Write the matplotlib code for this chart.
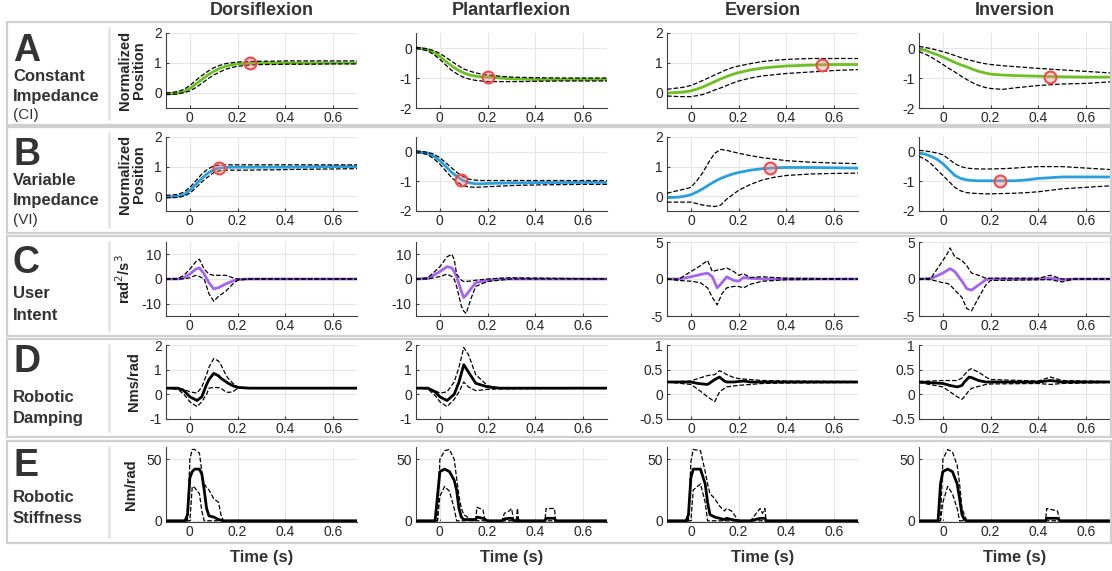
import numpy as np
import matplotlib
matplotlib.use('Agg')
from matplotlib import pyplot as plt
from matplotlib.patches import Rectangle
from matplotlib.lines import Line2D

plt.rcParams['font.family'] = ['Liberation Sans', 'DejaVu Sans']

W, H = 1112, 571

columns = ['Dorsiflexion', 'Plantarflexion', 'Eversion', 'Inversion']

# ---------------- Row A : constant impedance (normalized position) ----------------
tA = [-0.1, -0.075, -0.05, -0.025, 0, 0.025, 0.05, 0.075, 0.1, 0.125, 0.15, 0.175, 0.2, 0.25, 0.3, 0.35, 0.4, 0.5, 0.6, 0.7]
A_dorsi_mean = [-0.02, -0.02, 0.0, 0.05, 0.15, 0.3, 0.45, 0.6, 0.72, 0.82, 0.89, 0.94, 0.97, 0.99, 1.0, 1.0, 1.0, 1.0, 1.0, 1.0]
A_dorsi_hi = [0.0, 0.02, 0.05, 0.12, 0.25, 0.42, 0.58, 0.72, 0.84, 0.92, 0.98, 1.01, 1.03, 1.05, 1.06, 1.06, 1.07, 1.07, 1.07, 1.07]
A_dorsi_lo = [-0.05, -0.05, -0.03, 0.01, 0.07, 0.18, 0.32, 0.47, 0.6, 0.7, 0.79, 0.85, 0.89, 0.93, 0.95, 0.95, 0.96, 0.96, 0.97, 0.97]
A_plant_mean = [0.0, -0.02, -0.06, -0.15, -0.28, -0.45, -0.6, -0.73, -0.83, -0.9, -0.94, -0.96, -0.97, -1.0, -1.03, -1.04, -1.05, -1.05, -1.05, -1.05]
A_plant_hi = [0.02, 0.0, -0.03, -0.09, -0.18, -0.31, -0.45, -0.58, -0.7, -0.77, -0.83, -0.87, -0.9, -0.94, -0.97, -0.98, -0.99, -1.0, -1.0, -1.0]
A_plant_lo = [-0.02, -0.05, -0.1, -0.22, -0.38, -0.57, -0.75, -0.88, -0.98, -1.04, -1.08, -1.1, -1.12, -1.12, -1.12, -1.12, -1.11, -1.1, -1.1, -1.1]
A_ever_mean = [0.0, 0.01, 0.02, 0.04, 0.07, 0.13, 0.2, 0.29, 0.38, 0.47, 0.55, 0.62, 0.68, 0.77, 0.83, 0.87, 0.9, 0.93, 0.95, 0.95]
A_ever_hi = [0.12, 0.15, 0.17, 0.2, 0.25, 0.33, 0.42, 0.51, 0.6, 0.69, 0.78, 0.85, 0.9, 0.98, 1.05, 1.09, 1.12, 1.15, 1.15, 1.15]
A_ever_lo = [-0.1, -0.11, -0.12, -0.12, -0.12, -0.09, -0.05, 0.02, 0.1, 0.17, 0.25, 0.33, 0.4, 0.5, 0.57, 0.61, 0.65, 0.7, 0.75, 0.78]
A_inv_mean = [-0.05, -0.07, -0.15, -0.22, -0.3, -0.39, -0.48, -0.56, -0.63, -0.71, -0.78, -0.83, -0.87, -0.9, -0.92, -0.93, -0.94, -0.96, -0.97, -0.97]
A_inv_hi = [0.05, 0.02, -0.02, -0.07, -0.12, -0.18, -0.25, -0.32, -0.38, -0.43, -0.48, -0.52, -0.55, -0.59, -0.62, -0.65, -0.68, -0.73, -0.78, -0.83]
A_inv_lo = [-0.12, -0.2, -0.3, -0.42, -0.55, -0.68, -0.8, -0.93, -1.05, -1.16, -1.25, -1.31, -1.35, -1.38, -1.33, -1.29, -1.25, -1.2, -1.18, -1.13]

# ---------------- Row B : variable impedance (normalized position) ----------------
tB = tA
B_dorsi_mean = [-0.02, -0.02, 0.0, 0.05, 0.2, 0.4, 0.6, 0.78, 0.9, 0.95, 0.97, 0.98, 0.98, 0.98, 0.98, 0.98, 0.98, 0.99, 1.0, 1.0]
B_dorsi_hi = [0.03, 0.04, 0.06, 0.14, 0.3, 0.52, 0.75, 0.92, 1.02, 1.05, 1.06, 1.06, 1.06, 1.06, 1.06, 1.06, 1.06, 1.06, 1.06, 1.06]
B_dorsi_lo = [-0.05, -0.05, -0.04, 0.0, 0.1, 0.28, 0.48, 0.65, 0.8, 0.86, 0.88, 0.88, 0.88, 0.88, 0.89, 0.89, 0.9, 0.91, 0.92, 0.93]
B_plant_mean = [0.0, -0.02, -0.05, -0.15, -0.3, -0.5, -0.7, -0.85, -0.98, -1.05, -1.08, -1.08, -1.07, -1.06, -1.05, -1.05, -1.04, -1.04, -1.03, -1.03]
B_plant_hi = [0.03, 0.01, -0.02, -0.08, -0.2, -0.37, -0.55, -0.72, -0.85, -0.93, -0.96, -0.97, -0.97, -0.97, -0.97, -0.97, -0.97, -0.97, -0.97, -0.97]
B_plant_lo = [-0.03, -0.05, -0.1, -0.24, -0.42, -0.65, -0.88, -1.04, -1.15, -1.19, -1.2, -1.19, -1.18, -1.16, -1.14, -1.13, -1.12, -1.11, -1.1, -1.1]
B_ever_mean = [-0.05, -0.04, -0.03, 0.0, 0.05, 0.14, 0.25, 0.38, 0.5, 0.6, 0.68, 0.75, 0.8, 0.88, 0.93, 0.96, 0.97, 0.97, 0.96, 0.95]
B_ever_hi = [0.1, 0.15, 0.2, 0.24, 0.3, 0.52, 0.8, 1.15, 1.45, 1.58, 1.55, 1.5, 1.45, 1.37, 1.3, 1.25, 1.2, 1.15, 1.12, 1.1]
B_ever_lo = [-0.2, -0.2, -0.2, -0.2, -0.2, -0.25, -0.3, -0.33, -0.35, -0.3, -0.1, 0.05, 0.2, 0.4, 0.55, 0.64, 0.7, 0.75, 0.77, 0.78]
B_inv_mean = [-0.05, -0.08, -0.15, -0.25, -0.4, -0.6, -0.8, -0.9, -0.95, -0.97, -0.98, -0.98, -0.98, -0.98, -0.98, -0.95, -0.9, -0.85, -0.85, -0.85]
B_inv_hi = [0.05, 0.03, 0.0, -0.04, -0.1, -0.25, -0.4, -0.5, -0.55, -0.57, -0.58, -0.58, -0.58, -0.57, -0.55, -0.52, -0.5, -0.5, -0.55, -0.6]
B_inv_lo = [-0.15, -0.25, -0.4, -0.6, -0.8, -1.0, -1.2, -1.32, -1.38, -1.4, -1.41, -1.42, -1.42, -1.41, -1.4, -1.38, -1.35, -1.25, -1.2, -1.15]

# ---------------- Row C : user intent (rad^2/s^3) ----------------
C_dorsi_t = [-0.1, -0.05, -0.025, 0, 0.025, 0.04, 0.06, 0.08, 0.1, 0.12, 0.15, 0.18, 0.2, 0.25, 0.7]
C_dorsi_mean = [0, 0, 0.5, 2, 4, 4.5, 2, -1.5, -4, -3.5, -2, -0.8, -0.2, 0, 0]
C_dorsi_hi = [0, 0.2, 1.5, 4, 7, 8, 4, 2, 1.5, 1.5, 1.5, 0.5, 0, 0, 0]
C_dorsi_lo = [0, -0.1, 0.1, 0.5, 1.5, 1.0, 0, -6, -9, -7, -5, -2, -0.5, 0, 0]
C_plant_t = [-0.1, -0.05, 0, 0.03, 0.05, 0.06, 0.07, 0.09, 0.1, 0.11, 0.13, 0.15, 0.2, 0.25, 0.3, 0.7]
C_plant_mean = [0, 0.2, 3, 5, 4.5, 3, 1, -5, -7.5, -6.5, -4, -1.5, -0.5, 0, 0, 0]
C_plant_hi = [0, 0.5, 5, 9, 10, 8, 2, -0.5, -1, -1, -0.8, -0.5, 0, 0.3, 0.5, 0]
C_plant_lo = [0, 0, 1, 2, 1, 0, -3, -11, -13, -14, -8, -3, -1, -0.5, 0, 0]
C_ever_t = [-0.1, -0.05, 0, 0.04, 0.07, 0.09, 0.11, 0.13, 0.15, 0.18, 0.2, 0.22, 0.25, 0.3, 0.4, 0.7]
C_ever_mean = [0, 0, 0.3, 0.6, 0.8, 0.3, -1.2, -0.5, 0.3, -0.2, -0.3, 0.2, 0.1, 0, 0, 0]
C_ever_hi = [0, 0, 1, 1.8, 2.5, 1.0, 1.2, 1.3, 1.5, 1.0, 0.5, 0.7, 0.2, 0.3, 0.1, 0]
C_ever_lo = [0, -0.2, -0.3, -0.5, -1.2, -2.5, -3.5, -2, -1.2, -1.0, -1.0, -1.2, -0.7, -0.3, -0.1, 0]
C_inv_t = [-0.1, -0.05, 0, 0.02, 0.03, 0.05, 0.08, 0.1, 0.12, 0.15, 0.18, 0.2, 0.4, 0.45, 0.5, 0.55, 0.7]
C_inv_mean = [0, 0.05, 0.8, 1.2, 1.4, 1.0, -0.3, -1.3, -1.5, -0.8, -0.1, 0, 0, 0.1, -0.1, 0, 0]
C_inv_hi = [0, 0.1, 2.5, 3.5, 4.2, 3, 2.5, 1.8, 0.8, 0.5, 0.1, 0.1, 0.1, 0.5, 0.0, 0, 0]
C_inv_lo = [0, -0.1, -0.5, -0.6, -0.8, -1.5, -2.5, -4.0, -4.3, -2.5, -0.8, -0.2, -0.1, -0.1, -0.4, 0, 0]

# ---------------- Row D : robotic damping (Nms/rad) ----------------
D_dorsi_t = [-0.1, -0.05, -0.025, 0, 0.03, 0.05, 0.07, 0.08, 0.1, 0.12, 0.13, 0.15, 0.16, 0.18, 0.2, 0.25, 0.7]
D_dorsi_mean = [0.25, 0.25, 0.15, -0.1, -0.25, -0.1, 0.4, 0.6, 0.85, 0.75, 0.65, 0.52, 0.45, 0.35, 0.28, 0.25, 0.25]
D_dorsi_hi = [0.25, 0.25, 0.2, 0.1, 0.05, 0.3, 0.8, 1.1, 1.45, 1.35, 1.2, 0.8, 0.65, 0.45, 0.3, 0.25, 0.25]
D_dorsi_lo = [0.25, 0.2, 0.0, -0.3, -0.5, -0.3, 0.0, 0.25, 0.28, 0.27, 0.25, 0.1, 0.08, 0.1, 0.25, 0.25, 0.25]
D_plant_t = [-0.1, -0.05, -0.02, 0, 0.03, 0.06, 0.08, 0.09, 0.1, 0.12, 0.15, 0.2, 0.25, 0.7]
D_plant_mean = [0.25, 0.25, 0.1, -0.1, -0.25, 0.0, 0.5, 0.85, 1.2, 0.9, 0.45, 0.3, 0.25, 0.25]
D_plant_hi = [0.25, 0.25, 0.15, 0.05, 0.1, 0.5, 1.1, 1.5, 1.9, 1.6, 0.8, 0.35, 0.25, 0.25]
D_plant_lo = [0.25, 0.22, -0.05, -0.3, -0.5, -0.2, 0.1, 0.3, 0.5, 0.3, 0.15, 0.2, 0.22, 0.25]
D_ever_t = [-0.1, 0, 0.03, 0.07, 0.1, 0.12, 0.14, 0.15, 0.18, 0.2, 0.22, 0.25, 0.3, 0.4, 0.7]
D_ever_mean = [0.25, 0.25, 0.22, 0.2, 0.3, 0.35, 0.27, 0.25, 0.25, 0.26, 0.27, 0.25, 0.25, 0.25, 0.25]
D_ever_hi = [0.25, 0.27, 0.32, 0.38, 0.4, 0.48, 0.43, 0.4, 0.34, 0.32, 0.31, 0.3, 0.28, 0.27, 0.26]
D_ever_lo = [0.25, 0.2, 0.1, -0.05, -0.15, 0.05, 0.12, 0.15, 0.17, 0.18, 0.19, 0.2, 0.22, 0.23, 0.24]
D_inv_t = [-0.1, 0, 0.03, 0.06, 0.08, 0.09, 0.11, 0.12, 0.14, 0.15, 0.18, 0.2, 0.4, 0.45, 0.5, 0.7]
D_inv_mean = [0.25, 0.22, 0.18, 0.15, 0.18, 0.25, 0.35, 0.34, 0.3, 0.28, 0.25, 0.25, 0.25, 0.28, 0.25, 0.25]
D_inv_hi = [0.26, 0.28, 0.28, 0.28, 0.33, 0.4, 0.5, 0.52, 0.47, 0.45, 0.35, 0.3, 0.27, 0.35, 0.28, 0.26]
D_inv_lo = [0.24, 0.15, 0.05, -0.05, -0.1, -0.05, 0.08, 0.12, 0.15, 0.16, 0.2, 0.21, 0.22, 0.2, 0.22, 0.24]

# ---------------- Row E : robotic stiffness (Nm/rad) ----------------
E_dorsi_t = [-0.1, -0.02, -0.01, 0, 0.01, 0.02, 0.04, 0.05, 0.06, 0.07, 0.08, 0.1, 0.12, 0.13, 0.14, 0.7]
E_dorsi_mean = [0, 0, 5, 35, 40, 42, 42, 38, 25, 10, 4, 3, 1, 0.5, 0, 0]
E_dorsi_hi = [0, 0, 0, 50, 58, 58, 55, 40, 30, 27, 25, 18, 15, 5, 0, 0]
E_dorsi_lo = [0, 0, 0, 0, 28, 27, 22, 8, 0, 0, 0, 0, 0, 0, 0, 0]
E_plant_t = [-0.1, -0.02, -0.01, 0, 0.02, 0.04, 0.06, 0.07, 0.08, 0.09, 0.1, 0.14, 0.15, 0.155, 0.18, 0.19, 0.2, 0.26, 0.27, 0.29, 0.3, 0.31, 0.32, 0.325, 0.33, 0.44, 0.445, 0.48, 0.485, 0.7]
E_plant_mean = [0, 0, 20, 40, 42, 40, 33, 25, 10, 3, 1, 1, 1, 3, 2, 1, 0, 0, 1.5, 2, 2, 0, 0, 2, 0, 0, 2, 2, 0, 0]
E_plant_hi = [0, 0, 0, 50, 57, 58, 50, 35, 20, 10, 5, 0, 0, 11, 9, 0, 0, 0, 6, 8, 10, 0, 0, 10, 0, 0, 10, 10, 0, 0]
E_plant_lo = [0, 0, 0, 20, 28, 24, 10, 0, 0, 0, 0, 0, 0, 0, 0, 0, 0, 0, 0, 0, 0, 0, 0, 0, 0, 0, 0, 0, 0, 0]
E_ever_t = [-0.1, -0.02, -0.01, 0, 0.01, 0.04, 0.06, 0.07, 0.08, 0.1, 0.12, 0.14, 0.15, 0.17, 0.2, 0.25, 0.27, 0.29, 0.3, 0.31, 0.315, 0.7]
E_ever_mean = [0, 0, 5, 35, 42, 42, 30, 15, 5, 3, 2, 1, 2, 1, 0, 0, 1, 2, 2, 2, 0, 0]
E_ever_hi = [0, 0, 0, 48, 58, 57, 40, 30, 22, 18, 12, 8, 10, 8, 0, 0, 5, 10, 6, 10, 0, 0]
E_ever_lo = [0, 0, 0, 0, 25, 30, 15, 0, 0, 0, 0, 0, 0, 0, 0, 0, 0, 0, 0, 0, 0, 0]
E_inv_t = [-0.1, -0.02, -0.01, 0, 0.02, 0.04, 0.06, 0.07, 0.08, 0.09, 0.1, 0.43, 0.435, 0.48, 0.49, 0.7]
E_inv_mean = [0, 0, 30, 40, 42, 40, 30, 18, 5, 1, 0, 0, 2, 2, 0, 0]
E_inv_hi = [0, 0, 0, 50, 58, 56, 45, 30, 10, 5, 0, 0, 10, 8, 0, 0]
E_inv_lo = [0, 0, 0, 15, 28, 22, 10, 0, 0, 0, 0, 0, 0, 0, 0, 0]

# crossing markers (time, value) for rows A and B
A_marks = [(0.25, 1.0), (0.2, -0.95), (0.55, 0.95), (0.45, -0.95)]
B_marks = [(0.12, 0.95), (0.09, -0.95), (0.33, 0.95), (0.24, -1.0)]

green = '#6dbf24'
blue = '#2a9fe0'
purple = '#a464f0'
txt = '#333333'

rows = [
    dict(t=[tA] * 4, mean=[A_dorsi_mean, A_plant_mean, A_ever_mean, A_inv_mean],
         hi=[A_dorsi_hi, A_plant_hi, A_ever_hi, A_inv_hi], lo=[A_dorsi_lo, A_plant_lo, A_ever_lo, A_inv_lo],
         color=green, marks=A_marks, ylabel='Normalized\nPosition',
         ylims=[(-0.5, 2), (-2, 0.5), (-0.5, 2), (-2, 0.5)],
         yticks=[[0, 1, 2], [-2, -1, 0], [0, 1, 2], [-2, -1, 0]]),
    dict(t=[tB] * 4, mean=[B_dorsi_mean, B_plant_mean, B_ever_mean, B_inv_mean],
         hi=[B_dorsi_hi, B_plant_hi, B_ever_hi, B_inv_hi], lo=[B_dorsi_lo, B_plant_lo, B_ever_lo, B_inv_lo],
         color=blue, marks=B_marks, ylabel='Normalized\nPosition',
         ylims=[(-0.5, 2), (-2, 0.5), (-0.5, 2), (-2, 0.5)],
         yticks=[[0, 1, 2], [-2, -1, 0], [0, 1, 2], [-2, -1, 0]]),
    dict(t=[C_dorsi_t, C_plant_t, C_ever_t, C_inv_t], mean=[C_dorsi_mean, C_plant_mean, C_ever_mean, C_inv_mean],
         hi=[C_dorsi_hi, C_plant_hi, C_ever_hi, C_inv_hi], lo=[C_dorsi_lo, C_plant_lo, C_ever_lo, C_inv_lo],
         color=purple, marks=None, ylabel='rad$^2$/s$^3$',
         ylims=[(-15, 15), (-15, 15), (-5, 5), (-5, 5)],
         yticks=[[-10, 0, 10], [-10, 0, 10], [-5, 0, 5], [-5, 0, 5]]),
    dict(t=[D_dorsi_t, D_plant_t, D_ever_t, D_inv_t], mean=[D_dorsi_mean, D_plant_mean, D_ever_mean, D_inv_mean],
         hi=[D_dorsi_hi, D_plant_hi, D_ever_hi, D_inv_hi], lo=[D_dorsi_lo, D_plant_lo, D_ever_lo, D_inv_lo],
         color='black', marks=None, ylabel='Nms/rad',
         ylims=[(-1, 2), (-1, 2), (-0.5, 1), (-0.5, 1)],
         yticks=[[-1, 0, 1, 2], [-1, 0, 1, 2], [-0.5, 0, 0.5, 1], [-0.5, 0, 0.5, 1]]),
    dict(t=[E_dorsi_t, E_plant_t, E_ever_t, E_inv_t], mean=[E_dorsi_mean, E_plant_mean, E_ever_mean, E_inv_mean],
         hi=[E_dorsi_hi, E_plant_hi, E_ever_hi, E_inv_hi], lo=[E_dorsi_lo, E_plant_lo, E_ever_lo, E_inv_lo],
         color='black', marks=None, ylabel='Nm/rad',
         ylims=[(-1, 60)] * 4,
         yticks=[[0, 50]] * 4),
]

# layout in pixels
ax_left = [166, 416, 667, 919]
ax_w = 191
ax_rows = [(33, 108), (137, 211), (242, 316), (345, 419), (447, 522)]
boxes = [(22, 125), (127, 233), (236, 336), (339, 437), (441, 543)]

letters = ['A', 'B', 'C', 'D', 'E']
names = [['Constant', 'Impedance'], ['Variable', 'Impedance'], ['User', 'Intent'],
         ['Robotic', 'Damping'], ['Robotic', 'Stiffness']]
subs = ['(CI)', '(VI)', None, None, None]
letter_base = [61, 165, 273, 372, 476]
name_base = [[81, 101], [185, 205], [298, 320], [402, 423], [502, 523]]
sub_base = [119, 224, None, None, None]

fig = plt.figure(figsize=(W / 100, H / 100), dpi=100)

def fy(y):
    return 1 - y / H

for r, (bt, bb) in enumerate(boxes):
    fig.patches.append(Rectangle((7 / W, fy(bb)), (W - 8) / W, (bb - bt) / H, transform=fig.transFigure,
                                 fill=False, edgecolor='#d0d0d0', lw=1.6, zorder=0))
    fig.add_artist(Line2D([109 / W, 109 / W], [fy(bt + 6), fy(bb - 6)], transform=fig.transFigure,
                          color='#e4e4e4', lw=1.8))
    fig.text(13 / W, fy(letter_base[r]), letters[r], fontsize=27, fontweight='bold', color=txt, va='baseline')
    for nm, yb in zip(names[r], name_base[r]):
        fig.text(13 / W, fy(yb), nm, fontsize=12, fontweight='bold', color=txt, va='baseline')
    if subs[r]:
        fig.text(13 / W, fy(sub_base[r]), subs[r], fontsize=11, color=txt, va='baseline')

for r, row in enumerate(rows):
    top, bot = ax_rows[r]
    for c in range(4):
        ax = fig.add_axes([ax_left[c] / W, fy(bot), ax_w / W, (bot - top) / H])
        t = row['t'][c]
        ax.plot(t, row['hi'][c], '--', color='black', lw=0.9, zorder=3)
        ax.plot(t, row['lo'][c], '--', color='black', lw=0.9, zorder=3)
        ax.plot(t, row['mean'][c], '-', color=row['color'], lw=2, zorder=2)
        if row['marks']:
            mx, my = row['marks'][c]
            ax.plot([mx], [my], 'o', ms=8.5, mfc=(1, 0.5, 0.5, 0.35), mec='#f04a4a', mew=1.5, zorder=4)
        ax.set_xlim(-0.1, 0.7)
        ax.set_ylim(*row['ylims'][c])
        ax.set_xticks([0, 0.2, 0.4, 0.6])
        ax.set_xticklabels(['0', '0.2', '0.4', '0.6'])
        ax.set_yticks(row['yticks'][c])
        ax.set_yticklabels([('%g' % v) for v in row['yticks'][c]])
        ax.grid(True, color='#e6e6e6', lw=0.8)
        ax.set_axisbelow(True)
        for s in ['top', 'right']:
            ax.spines[s].set_visible(False)
        for s in ['left', 'bottom']:
            ax.spines[s].set_color('#404040')
            ax.spines[s].set_linewidth(0.8)
        ax.tick_params(direction='in', length=2, labelsize=10, colors='#404040', labelcolor='#262626', pad=3)
        ax.tick_params(axis='x', pad=2)
        if c == 0:
            ax.set_ylabel(row['ylabel'], fontsize=10.5, fontweight='bold', color='#262626', labelpad=6,
                          linespacing=0.95)
        if r == 0:
            ax.set_title(columns[c], fontsize=13, fontweight='bold', color=txt, pad=13)
        if r == 4:
            ax.set_xlabel('Time (s)', fontsize=12, fontweight='bold', color=txt, labelpad=8)

fig.savefig('out.png', dpi=100)
